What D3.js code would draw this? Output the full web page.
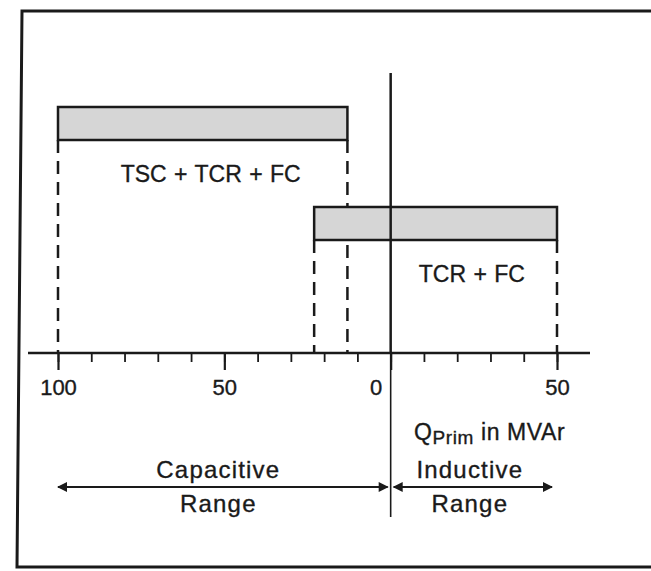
<!DOCTYPE html>
<html>
<head>
<meta charset="utf-8">
<script src="https://cdn.jsdelivr.net/npm/d3@7"></script>
<style>
  body { margin: 0; background: #fff; }
  svg text { font-family: "Liberation Sans", Arial, sans-serif; fill: #1a1a1a; stroke: #1a1a1a; stroke-width: 0.35; }
</style>
</head>
<body>
<svg id="chart" width="651" height="571"></svg>
<script>
// operating ranges, MVAr (capacitive < 0, inductive > 0)
const bands = ["TSC + TCR + FC", "TCR + FC"]
const rangeFrom = [-100, -23]
const rangeTo = [-13, 50]

const majorTicks = [-100, -50, 0, 50]
const tickLabels = ["100", "50", "0", "50"]
const minorTicks = d3.range(-100, 51, 10)

const regions = ["Capacitive", "Inductive"]
const regionFrom = [-100, 0]
const regionTo = [0, 50]

const w = 651
const h = 571
const axisY = 353
const ink = "#1a1a1a"

const svg = d3.select("#chart")

const x = d3.scaleLinear()
  .domain([-100, 50])
  .range([58, 557])

const y = d3.scaleBand()
  .domain(bands)
  .range([107, 240])
  .paddingInner(0.67)
  .paddingOuter(0)

// arrow heads
const defs = svg.append("defs")
defs.append("marker")
  .attr("id", "head")
  .attr("viewBox", "0 0 10 10")
  .attr("refX", 9)
  .attr("refY", 5)
  .attr("markerWidth", 13)
  .attr("markerHeight", 10)
  .attr("markerUnits", "userSpaceOnUse")
  .attr("orient", "auto-start-reverse")
  .append("path")
  .attr("d", "M0,0 L10,5 L0,10 Z")
  .attr("fill", ink)

// frame
svg.append("path")
  .attr("d", `M${w},11 L22,11 L17,567 L${w},567`)
  .attr("fill", "none")
  .attr("stroke", ink)
  .attr("stroke-width", 3)

// dashed projections to the axis
const data = bands.map((b, i) => ({ band: b, from: rangeFrom[i], to: rangeTo[i] }))
const drops = data.flatMap(d => [{ band: d.band, v: d.from }, { band: d.band, v: d.to }])

svg.selectAll("line.drop")
  .data(drops)
  .enter()
  .append("line")
  .attr("class", "drop")
  .attr("x1", d => x(d.v))
  .attr("x2", d => x(d.v))
  .attr("y1", d => y(d.band) + y.bandwidth())
  .attr("y2", axisY)
  .attr("stroke", ink)
  .attr("stroke-width", 2.5)
  .attr("stroke-dasharray", "13,8")

// zero line
svg.append("line")
  .attr("x1", x(0)).attr("x2", x(0))
  .attr("y1", 73).attr("y2", axisY)
  .attr("stroke", ink)
  .attr("stroke-width", 2.5)
svg.append("line")
  .attr("x1", x(0)).attr("x2", x(0))
  .attr("y1", axisY).attr("y2", 517)
  .attr("stroke", ink)
  .attr("stroke-width", 1.6)

// bars
svg.selectAll("rect.bar")
  .data(data)
  .enter()
  .append("rect")
  .attr("class", "bar")
  .attr("x", d => x(d.from))
  .attr("y", d => y(d.band))
  .attr("width", d => x(d.to) - x(d.from))
  .attr("height", y.bandwidth())
  .attr("fill", "#d6d6d6")
  .attr("stroke", ink)
  .attr("stroke-width", 2.5)

// zero line crosses the lower bar
svg.append("line")
  .attr("x1", x(0)).attr("x2", x(0))
  .attr("y1", y(bands[1])).attr("y2", y(bands[1]) + y.bandwidth())
  .attr("stroke", ink)
  .attr("stroke-width", 2.5)

svg.selectAll("text.band")
  .data(data)
  .enter()
  .append("text")
  .attr("class", "band")
  .attr("x", (d, i) => i === 0 ? (x(d.from) + x(d.to)) / 2 + 8 : (x(0) + x(d.to)) / 2 - 2)
  .attr("y", d => y(d.band) + y.bandwidth() + 42)
  .attr("text-anchor", "middle")
  .attr("font-size", 23)
  .attr("word-spacing", 1)
  .text(d => d.band)

// axis line
svg.append("line")
  .attr("x1", 28).attr("x2", 590)
  .attr("y1", axisY).attr("y2", axisY)
  .attr("stroke", ink)
  .attr("stroke-width", 2.5)

const minorAxis = d3.axisBottom(x)
  .tickValues(minorTicks)
  .tickSize(9)
  .tickFormat("")

svg.append("g")
  .attr("transform", `translate(0, ${axisY})`)
  .call(minorAxis)
  .call(g => g.select(".domain").remove())
  .call(g => g.selectAll("line").attr("stroke", ink).attr("stroke-width", 1.8))

const majorAxis = d3.axisBottom(x)
  .tickValues(majorTicks)
  .tickSize(17)
  .tickFormat((d, i) => tickLabels[i])

svg.append("g")
  .attr("transform", `translate(0, ${axisY})`)
  .call(majorAxis)
  .call(g => g.select(".domain").remove())
  .call(g => g.selectAll("line").attr("stroke", ink).attr("stroke-width", 2.2))
  .call(g => g.selectAll("text")
    .attr("y", 26)
    .attr("font-size", 22)
    .attr("fill", ink)
    .attr("font-family", "Liberation Sans, Arial, sans-serif"))
  .call(g => g.selectAll(".tick").filter(d => d === 0).select("text")
    .attr("text-anchor", "end")
    .attr("x", -9))

// unit label
const unit = svg.append("text")
  .attr("x", 414)
  .attr("y", 440)
  .attr("font-size", 23)
  .attr("letter-spacing", 0.6)
unit.append("tspan").text("Q")
unit.append("tspan").attr("font-size", 19).attr("dy", 4).text("Prim")
unit.append("tspan").attr("dy", -4).text(" in MVAr")

// range arrows
const reg = regions.map((r, i) => ({ name: r, from: regionFrom[i], to: regionTo[i] }))

svg.selectAll("line.range")
  .data(reg)
  .enter()
  .append("line")
  .attr("class", "range")
  .attr("x1", d => d.from === 0 ? x(d.from) + 3 : x(d.from))
  .attr("x2", d => d.to === 0 ? x(d.to) - 3 : x(d.to) - 5)
  .attr("y1", 487)
  .attr("y2", 487)
  .attr("stroke", ink)
  .attr("stroke-width", 1.8)
  .attr("marker-start", "url(#head)")
  .attr("marker-end", "url(#head)")

const regionX = d => d.from === 0 ? (x(d.from) + x(d.to)) / 2 - 4 : (x(d.from) + x(d.to)) / 2 - 6

svg.selectAll("text.region")
  .data(reg)
  .enter()
  .append("text")
  .attr("class", "region")
  .attr("x", regionX)
  .attr("y", 478)
  .attr("text-anchor", "middle")
  .attr("font-size", 24)
  .attr("letter-spacing", 1.2)
  .text(d => d.name)

svg.selectAll("text.rangeword")
  .data(reg)
  .enter()
  .append("text")
  .attr("class", "rangeword")
  .attr("x", regionX)
  .attr("y", 512)
  .attr("text-anchor", "middle")
  .attr("font-size", 24)
  .attr("letter-spacing", 1.2)
  .text("Range")
</script>
</body>
</html>
